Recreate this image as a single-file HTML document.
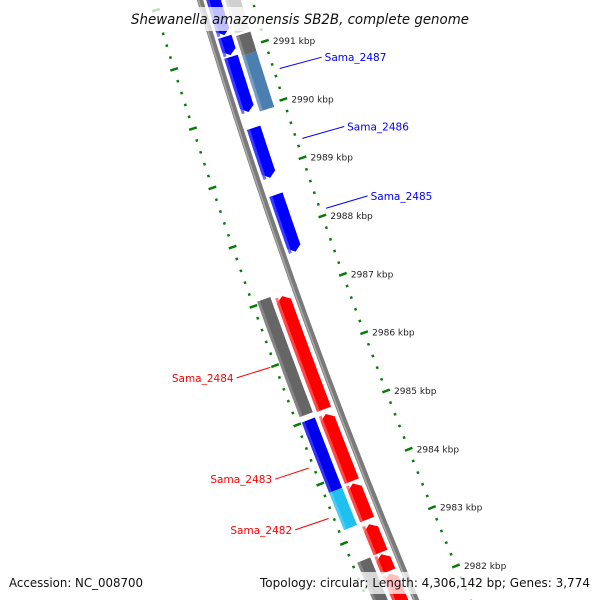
<!DOCTYPE html>
<html><head><meta charset="utf-8"><style>
html,body{margin:0;padding:0;background:#fff;overflow:hidden}
svg{display:block}
text{font-family:"DejaVu Sans","Liberation Sans",sans-serif}
</style></head><body>
<svg id="map" width="600" height="600" viewBox="0 0 600 600" xmlns="http://www.w3.org/2000/svg">
<g id="rings"></g>
<g id="axis"></g>
<g id="feats"></g>
<g id="labels"></g>
<g>
<rect x="128" y="7" width="344" height="24" fill="#fff" opacity="0.75"/>
<text x="300" y="24" text-anchor="middle" font-size="14" font-style="italic" textLength="338" lengthAdjust="spacingAndGlyphs" fill="#111">Shewanella amazonensis SB2B, complete genome</text>
</g>
<g>
<rect x="0" y="572" width="600" height="22" fill="#fff" opacity="0.75"/>
<text x="9" y="587" font-size="12" textLength="134" lengthAdjust="spacingAndGlyphs" fill="#111">Accession: NC_008700</text>
<text x="590" y="587" text-anchor="end" font-size="12" textLength="330" lengthAdjust="spacingAndGlyphs" fill="#111">Topology: circular; Length: 4,306,142 bp; Genes: 3,774</text>
</g>
</svg>
<script>
// data (kbp)
const tickKbp = [2991,2990,2989,2988,2987,2986,2985,2984,2983,2982];
const revGeneStart = [2992.05,2991.26,2990.92,2989.71,2988.57];
const revGeneEnd   = [2991.29,2990.95,2989.98,2988.86,2987.60];
const revCogStart = [2991.94,2991.22,2990.88];
const revCogEnd   = [2991.26,2990.88,2989.93];
const revCogColor = ["#d0d0d0","#666666","#4a7fb0"];
const fwdGeneStart = [2987.00,2985.00,2983.82,2983.13,2982.62,2982.29];
const fwdGeneEnd   = [2985.08,2983.86,2983.21,2982.65,2982.33,2981.65];
const fwdCogStart = [2987.05,2985.01,2983.82,2982.64];
const fwdCogEnd   = [2985.10,2983.82,2983.19,2981.75];
const fwdCogColor = ["#666666","#0000ee","#1ec0f0","#666666"];
const labelNames = ["Sama_2487","Sama_2486","Sama_2485","Sama_2484","Sama_2483","Sama_2482"];
const labelKbp = [2990.50,2989.30,2988.10,2986.00,2984.30,2983.45];

const NS="http://www.w3.org/2000/svg";
function sOf(k){return 56+(2991-k)*58.8;}
function P(s,d){const t=0.3+0.0002*s;const n=Math.sqrt(1+t*t);return [200+0.3*s+0.0001*s*s + d/n, s - d*t/n];}
function mk(tag,attrs,parent){const e=document.createElementNS(NS,tag);for(const k in attrs)e.setAttribute(k,attrs[k]);parent.appendChild(e);return e;}
function band(s1,s2,d1,d2,arrow){
  const pts=[];const N=12;const a=5;
  let A=s1,B=s2;
  if(arrow===1)B=s2-a; if(arrow===-1)A=s1+a;
  for(let i=0;i<=N;i++)pts.push(P(A+(B-A)*i/N,d1));
  if(arrow===1)pts.push(P(s2,(d1+d2)/2));
  for(let i=N;i>=0;i--)pts.push(P(A+(B-A)*i/N,d2));
  if(arrow===-1)pts.push(P(s1,(d1+d2)/2));
  return pts.map(p=>p[0].toFixed(1)+","+p[1].toFixed(1)).join(" ");
}
const rings=document.getElementById('rings'),axis=document.getElementById('axis'),feats=document.getElementById('feats'),labels=document.getElementById('labels');

let dpath="";for(let s=-20;s<=640;s+=10){const p=P(s,0);dpath+=(s===-20?"M":"L")+p[0].toFixed(1)+","+p[1].toFixed(1);}
let e=mk('path',{d:dpath,stroke:"#7a7a7a","stroke-width":6,fill:"none"},axis);

let dp2="";for(let s=-20;s<=640;s+=10){const p=P(s,-1.5);dp2+=(s===-20?"M":"L")+p[0].toFixed(1)+","+p[1].toFixed(1);}
e=mk('path',{d:dp2,stroke:"#a8a8a8","stroke-width":1.5,fill:"none"},axis);


const kMax=2992.2,kMin=2981.2;
for(let i=0;;i++){const k=kMax-i*0.2;if(k<kMin)break;
  const major=Math.abs(k-Math.round(k))<0.01;
  const s=sOf(k);
  [[50,1],[-45,-1]].forEach(([d,dir])=>{
    const len=major?8:2.5;
    const p1=P(s,d-len/2),p2=P(s,d+len/2);
    const t=mk('line',{x1:p1[0],y1:p1[1],x2:p2[0],y2:p2[1],stroke:"#0a7a0a","stroke-width":2.5},rings);
    
  });
}
tickKbp.forEach(k=>{const p=P(sOf(k),50);
  const t=mk('text',{x:p[0]+8,y:p[1]+3,"font-size":9,fill:"#222"},rings);t.textContent=k+" kbp";
  });

function drawGene(s1,s2,d1,d2,arrow,fill,light,name){
  const g=mk('g',{},feats);
  
  mk('polygon',{points:band(s1,s2,d1,d2,arrow),fill:fill},g);
  mk('polygon',{points:band(s1,s2,d1,d1+3,0),fill:light,opacity:0.8},g);
}
revGeneStart.forEach((k,i)=>drawGene(sOf(k),sOf(revGeneEnd[i]),6,20,1,"#0000ff","#4a4aff","reverse-gene"));
revCogStart.forEach((k,i)=>drawGene(sOf(k),sOf(revCogEnd[i]),24,39,0,revCogColor[i],"rgba(255,255,255,0.3)","reverse-cog-feature"));
fwdGeneStart.forEach((k,i)=>drawGene(sOf(k),sOf(fwdGeneEnd[i]),-22,-7,-1,"#ff0000","#ff5a5a","forward-gene"));
fwdCogStart.forEach((k,i)=>drawGene(sOf(k),sOf(fwdCogEnd[i]),-40,-26,0,fwdCogColor[i],"rgba(255,255,255,0.25)","forward-cog-feature"));

labelNames.forEach((nm,i)=>{
  const s=sOf(labelKbp[i]);const right=i<3;
  const g=mk('g',{},labels);
  
  const col=right?"#0000ff":"#ff0000";
  const a=P(s,right?56:-50), b=P(s,right?100:-86);
  b[1]=b[1]+(right?2:-2);
  mk('line',{x1:a[0],y1:a[1],x2:b[0],y2:b[1],stroke:col,"stroke-width":1},g);
  const t=mk('text',{x:right?b[0]+3:b[0]-3,y:b[1]+4,"font-size":10.5,fill:col,"text-anchor":right?"start":"end"},g);
  t.textContent=nm;
});
</script>
</body></html>
